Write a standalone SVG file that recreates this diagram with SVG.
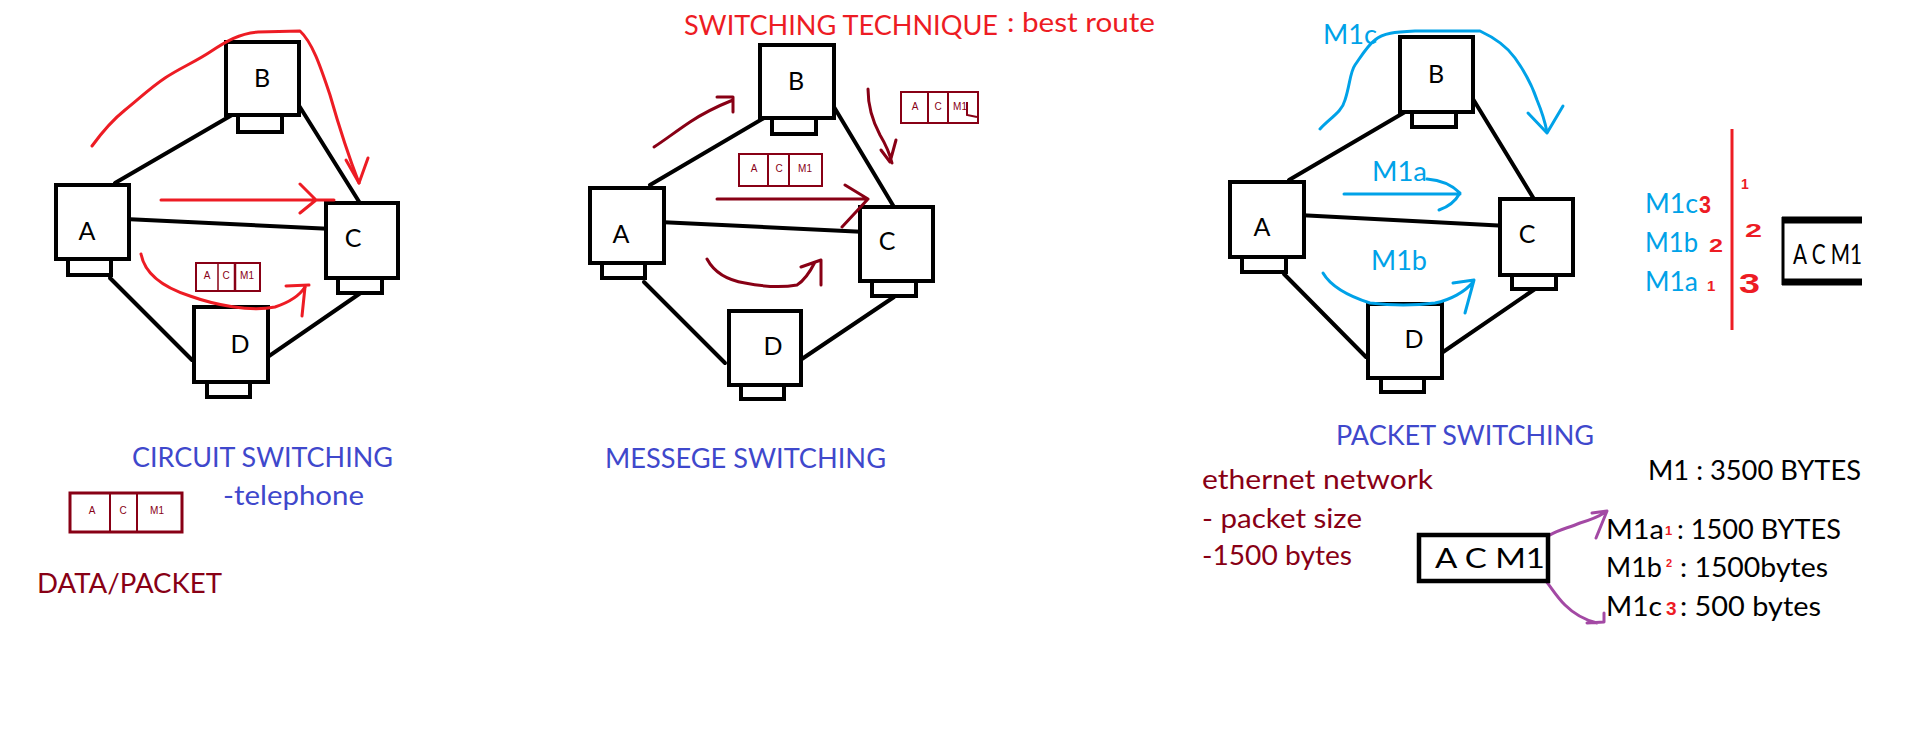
<svg xmlns="http://www.w3.org/2000/svg" width="1914" height="734" viewBox="0 0 1914 734">
<style>
.box{fill:#fff;stroke:#000;stroke-width:4}
.link{stroke:#000;stroke-width:4;stroke-linecap:round;fill:none}
.lbl{font-family:Lato,"Open Sans",sans-serif;font-size:25px;fill:#000;text-anchor:middle}
.t{font-family:Lato,"Open Sans",sans-serif;font-size:26px}
.blue{fill:#3F48CC}
.dred{fill:#880015}
.red{fill:#ED1C24}
.cyan{fill:#00A2E8}
.blk{fill:#000}
.ar{fill:none;stroke-width:3;stroke-linecap:round;stroke-linejoin:round}
.rr{stroke:#ED1C24}
.dr{stroke:#880015}
.cy{stroke:#00A2E8}
.pu{stroke:#A349A4}
.pk{fill:#fff;stroke:#880015;stroke-width:2}
.pkt{font-family:"Liberation Sans",Arial,sans-serif;font-size:10px;fill:#880015;text-anchor:middle}
.dig{font-family:"Liberation Sans",Arial,sans-serif;font-weight:bold;fill:#ED1C24}
</style>

<g id="connectors">
  <line class="link" x1="115" y1="183" x2="232" y2="115"/>
  <line class="link" x1="298" y1="104" x2="363" y2="208"/>
  <line class="link" x1="125" y1="219" x2="333" y2="229"/>
  <line class="link" x1="110" y1="278" x2="192" y2="360"/>
  <line class="link" x1="253" y1="367" x2="362" y2="292"/>

  <line class="link" x1="650" y1="185" x2="764" y2="118"/>
  <line class="link" x1="834" y1="107" x2="897" y2="212"/>
  <line class="link" x1="659" y1="222" x2="866" y2="232"/>
  <line class="link" x1="644" y1="282" x2="725" y2="363"/>
  <line class="link" x1="787" y1="369" x2="894" y2="297"/>

  <line class="link" x1="1289" y1="180" x2="1405" y2="112"/>
  <line class="link" x1="1473" y1="99" x2="1537" y2="204"/>
  <line class="link" x1="1298" y1="215" x2="1508" y2="226"/>
  <line class="link" x1="1284" y1="274" x2="1366" y2="357"/>
  <line class="link" x1="1427" y1="363" x2="1535" y2="289"/>
</g>

<g id="c-A"><rect class="box" x="68" y="259" width="43" height="16"/><rect class="box" x="56" y="185" width="73" height="74"/><text class="lbl" x="87" y="240">A</text></g>
<g id="c-B"><rect class="box" x="238" y="115" width="44" height="17"/><rect class="box" x="226" y="42" width="73" height="73"/><text class="lbl" x="262" y="87">B</text></g>
<g id="c-C"><rect class="box" x="338" y="278" width="44" height="15"/><rect class="box" x="326" y="203" width="72" height="75"/><text class="lbl" x="353" y="247">C</text></g>
<g id="c-D"><rect class="box" x="207" y="382" width="43" height="15"/><rect class="box" x="194" y="307" width="74" height="75"/><text class="lbl" x="240" y="353">D</text></g>

<g id="m-A"><rect class="box" x="602" y="263" width="43" height="15"/><rect class="box" x="590" y="188" width="74" height="75"/><text class="lbl" x="621" y="243">A</text></g>
<g id="m-B"><rect class="box" x="772" y="118" width="44" height="16"/><rect class="box" x="760" y="45" width="74" height="73"/><text class="lbl" x="796" y="90">B</text></g>
<g id="m-C"><rect class="box" x="872" y="281" width="44" height="15"/><rect class="box" x="860" y="207" width="73" height="74"/><text class="lbl" x="887" y="250">C</text></g>
<g id="m-D"><rect class="box" x="741" y="385" width="43" height="14"/><rect class="box" x="729" y="311" width="72" height="74"/><text class="lbl" x="773" y="355">D</text></g>

<g id="p-A"><rect class="box" x="1242" y="257" width="44" height="15"/><rect class="box" x="1230" y="182" width="74" height="75"/><text class="lbl" x="1262" y="236">A</text></g>
<g id="p-B"><rect class="box" x="1412" y="112" width="44" height="15"/><rect class="box" x="1400" y="37" width="73" height="75"/><text class="lbl" x="1436" y="83">B</text></g>
<g id="p-C"><rect class="box" x="1512" y="275" width="44" height="14"/><rect class="box" x="1500" y="199" width="73" height="76"/><text class="lbl" x="1527" y="243">C</text></g>
<g id="p-D"><rect class="box" x="1381" y="378" width="43" height="14"/><rect class="box" x="1368" y="304" width="74" height="74"/><text class="lbl" x="1414" y="348">D</text></g>

<g id="arrows-circuit">
  <path class="ar rr" d="M92,146 C100,135 110,122 125,110 C140,98 150,88 165,78 C180,68 195,62 210,52 C225,42 240,33 258,32 L300,31 C312,42 320,65 330,95 C340,130 350,160 359,183"/>
  <path class="ar rr" d="M346,160 L359,183 L368,158"/>
  <path class="ar rr" d="M161,200 L334,200 M300,184 L316,200 L300,213"/>
  <path class="ar rr" d="M141,254 C145,275 165,288 190,296 C215,305 250,312 275,307 C290,302 300,295 305,287"/>
  <path class="ar rr" d="M286,286 L309,285 M305,287 L302,316"/>
</g>
<g id="packet-c1">
  <rect class="pk" x="196" y="263" width="64" height="28" stroke-width="1.5"/>
  <line x1="218" y1="263" x2="218" y2="291" stroke="#880015" stroke-width="1.5"/>
  <line x1="235" y1="263" x2="235" y2="291" stroke="#880015" stroke-width="2.5"/>
  <text class="pkt" x="207" y="279">A</text><text class="pkt" x="226" y="279">C</text><text class="pkt" x="247" y="279">M1</text>
</g>

<g id="arrows-message">
  <path class="ar dr" d="M654,147 C665,140 675,132 690,122 C705,112 718,106 733,100 M717,97 L733,97 L733,112"/>
  <path class="ar dr" d="M868,89 C868,105 872,120 880,135 C886,145 890,155 892,163 M881,150 L890,162 L896,140"/>
  <path class="ar dr" d="M717,199 L868,199 M845,185 L868,199 L842,227"/>
  <path class="ar dr" d="M707,259 C714,272 726,280 745,283 C765,287 780,288 797,285 C805,280 810,272 815,262 M801,267 L821,260 L821,285"/>
</g>
<g id="packet-m1">
  <rect class="pk" x="739" y="154" width="83" height="32"/>
  <line x1="768" y1="154" x2="768" y2="186" stroke="#880015" stroke-width="2"/>
  <line x1="789" y1="154" x2="789" y2="186" stroke="#880015" stroke-width="2"/>
  <text class="pkt" x="754" y="172" font-size="11">A</text><text class="pkt" x="779" y="172" font-size="11">C</text><text class="pkt" x="805" y="172" font-size="11">M1</text>
</g>
<g id="packet-m2">
  <rect class="pk" x="901" y="92" width="77" height="31"/>
  <line x1="928" y1="92" x2="928" y2="123" stroke="#880015" stroke-width="2"/>
  <line x1="948" y1="92" x2="948" y2="123" stroke="#880015" stroke-width="2"/>
  <text class="pkt" x="915" y="110" font-size="11">A</text><text class="pkt" x="938" y="110" font-size="11">C</text><text class="pkt" x="960" y="110" font-size="11">M1</text>
  <path d="M967,102 L967,115 L977,117" fill="none" stroke="#880015" stroke-width="2"/>
</g>

<g id="arrows-packet">
  <path class="ar cy" d="M1320,129 C1330,118 1342,112 1345,100 C1350,85 1350,72 1355,65 C1362,55 1368,45 1375,40 C1383,33 1395,32 1415,31 L1480,31 C1495,38 1508,48 1515,58 C1525,72 1532,85 1537,100 C1542,112 1545,122 1547,132"/>
  <path class="ar cy" d="M1528,113 L1547,133 L1563,106"/>
  <path class="ar cy" d="M1344,194 L1460,194 M1427,179 C1440,180 1452,185 1460,193 C1455,202 1448,207 1439,210"/>
  <path class="ar cy" d="M1323,273 C1330,285 1345,295 1370,303 C1395,306 1420,305 1435,303 C1450,300 1465,292 1473,282 M1453,283 L1474,280 L1465,313"/>
  <path class="ar pu" d="M1550,535 C1558,530 1568,528 1580,523 C1590,520 1598,517 1604,513 M1592,513 L1607,511 L1596,538"/>
  <path class="ar pu" d="M1544,579 C1550,585 1555,595 1565,605 C1575,615 1585,620 1597,623 M1587,623 L1604,622 L1604,613"/>
  <line x1="1732" y1="129" x2="1732" y2="330" stroke="#ED1C24" stroke-width="3"/>
</g>

<text class="t blue" x="132" y="467" textLength="261" lengthAdjust="spacingAndGlyphs">CIRCUIT SWITCHING</text>
<text class="t blue" x="223" y="505" textLength="141" lengthAdjust="spacingAndGlyphs">-telephone</text>
<text class="t dred" x="37" y="593" textLength="185" lengthAdjust="spacingAndGlyphs">DATA/PACKET</text>
<g id="packet-data">
  <rect x="70" y="493" width="112" height="39" fill="#fff" stroke="#880015" stroke-width="3"/>
  <line x1="110" y1="493" x2="110" y2="532" stroke="#880015" stroke-width="2"/>
  <line x1="137" y1="493" x2="137" y2="533" stroke="#880015" stroke-width="2"/>
  <text class="pkt" x="92" y="514" font-size="15">A</text><text class="pkt" x="123" y="514" font-size="15">C</text><text class="pkt" x="157" y="514" font-size="15">M1</text>
</g>

<text class="t red" x="684" y="35" textLength="314" lengthAdjust="spacingAndGlyphs">SWITCHING TECHNIQUE</text>
<text class="t red" x="1007" y="32" textLength="148" lengthAdjust="spacingAndGlyphs">: best route</text>
<text class="t blue" x="605" y="468" textLength="281" lengthAdjust="spacingAndGlyphs">MESSEGE SWITCHING</text>

<text class="t cyan" x="1323" y="44" textLength="54" lengthAdjust="spacingAndGlyphs">M1c</text>
<text class="t cyan" x="1372" y="181" textLength="55" lengthAdjust="spacingAndGlyphs">M1a</text>
<text class="t cyan" x="1371" y="270" textLength="56" lengthAdjust="spacingAndGlyphs">M1b</text>
<text class="t blue" x="1336" y="445" textLength="258" lengthAdjust="spacingAndGlyphs">PACKET SWITCHING</text>

<text class="t cyan" x="1645" y="213" textLength="53" lengthAdjust="spacingAndGlyphs">M1c</text>
<text class="t cyan" x="1645" y="252" textLength="53" lengthAdjust="spacingAndGlyphs">M1b</text>
<text class="t cyan" x="1645" y="291" textLength="53" lengthAdjust="spacingAndGlyphs">M1a</text>
<text class="dig" x="1699" y="213" font-size="24" textLength="12" lengthAdjust="spacingAndGlyphs">3</text>
<text class="dig" x="1709" y="252" font-size="18" textLength="14" lengthAdjust="spacingAndGlyphs">2</text>
<text class="dig" x="1707" y="291" font-size="15">1</text>
<text class="dig" x="1741" y="189" font-size="14">1</text>
<text class="dig" x="1745" y="237" font-size="19" textLength="17" lengthAdjust="spacingAndGlyphs">2</text>
<text class="dig" x="1739" y="293" font-size="28" textLength="21" lengthAdjust="spacingAndGlyphs">3</text>

<g id="packet-big">
  <rect x="1783" y="220" width="79" height="62" fill="#fff"/>
  <line x1="1782" y1="220" x2="1862" y2="220" stroke="#000" stroke-width="7"/>
  <line x1="1782" y1="282" x2="1862" y2="282" stroke="#000" stroke-width="7"/>
  <line x1="1783" y1="217" x2="1783" y2="285" stroke="#000" stroke-width="3"/>
  <text class="t blk" x="1793" y="264" font-size="34" textLength="69" lengthAdjust="spacingAndGlyphs">A C M1</text>
</g>

<text class="t dred" x="1202" y="489" font-size="28" textLength="231" lengthAdjust="spacingAndGlyphs">ethernet network</text>
<text class="t dred" x="1202" y="528" font-size="28" textLength="160" lengthAdjust="spacingAndGlyphs">- packet size</text>
<text class="t dred" x="1202" y="565" font-size="28" textLength="150" lengthAdjust="spacingAndGlyphs">-1500 bytes</text>

<g id="packet-eth">
  <rect x="1419" y="535" width="129" height="46" fill="#fff" stroke="#000" stroke-width="4.5"/>
  <text class="t blk" x="1435" y="568" font-size="27" textLength="110" lengthAdjust="spacingAndGlyphs">A  C  M1</text>
</g>

<text class="t blk" x="1648" y="480" font-size="27" textLength="213" lengthAdjust="spacingAndGlyphs">M1 : 3500 BYTES</text>
<text class="t blk" x="1606" y="539" font-size="27" textLength="58" lengthAdjust="spacingAndGlyphs">M1a</text>
<text class="dig" x="1665" y="535" font-size="13">1</text>
<text class="t blk" x="1677" y="539" font-size="27" textLength="164" lengthAdjust="spacingAndGlyphs">: 1500 BYTES</text>
<text class="t blk" x="1606" y="577" font-size="27" textLength="56" lengthAdjust="spacingAndGlyphs">M1b</text>
<text class="dig" x="1666" y="567" font-size="11">2</text>
<text class="t blk" x="1680" y="577" font-size="27" textLength="148" lengthAdjust="spacingAndGlyphs">: 1500bytes</text>
<text class="t blk" x="1606" y="616" font-size="27" textLength="56" lengthAdjust="spacingAndGlyphs">M1c</text>
<text class="dig" x="1666" y="615" font-size="19">3</text>
<text class="t blk" x="1680" y="616" font-size="27" textLength="141" lengthAdjust="spacingAndGlyphs">: 500 bytes</text>
</svg>
